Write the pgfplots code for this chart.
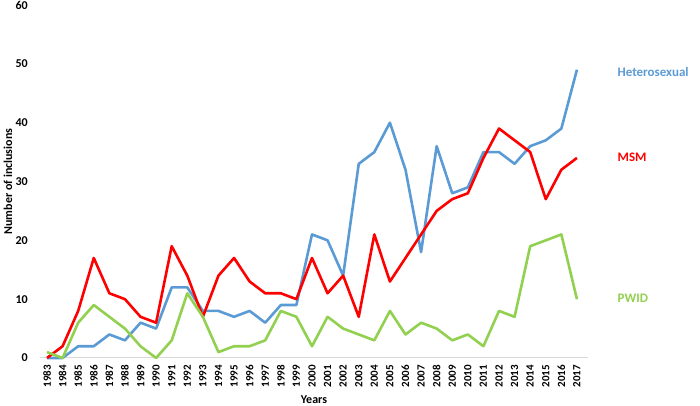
\documentclass[border=0pt]{standalone}
\usepackage{pgfplots}
\pgfplotsset{compat=1.18}
\usepackage{fontspec}
\setmainfont{Carlito}
\definecolor{hetero}{RGB}{91,155,213}
\definecolor{msm}{RGB}{255,0,0}
\definecolor{pwid}{RGB}{146,208,80}
\definecolor{axisgray}{RGB}{217,217,217}

\begin{document}
\begin{tikzpicture}[x=1pt,y=1pt]
\useasboundingbox (0,0) rectangle (700,406);
\begin{axis}[
    at={(40pt,48pt)}, anchor=south west,
    scale only axis, width=548pt, height=353pt,
    xmin=1982.55, xmax=2017.71,
    ymin=0, ymax=60,
    axis lines*=left,
    y axis line style={draw=none},
    x axis line style={axisgray, line width=1pt},
    major tick length=0pt,
    xtick={1983,...,2017},
    ytick={0,10,...,60},
    /pgf/number format/1000 sep={},
    /pgf/number format/assume math mode=true,
    xticklabel style={rotate=90, anchor=east, font=\bfseries\fontsize{11}{13}\selectfont, inner sep=0pt, xshift=-7pt},
    yticklabel style={anchor=east, inner sep=0pt, font=\bfseries\fontsize{12}{14}\selectfont, xshift=-12pt},
    xlabel={Years},
    ylabel={Number of inclusions},
    xlabel style={font=\bfseries\fontsize{12}{14}\selectfont, yshift=-5pt},
    ylabel style={font=\bfseries\fontsize{12}{14}\selectfont},
    clip=false,
    every axis plot/.append style={line width=2.6pt, line join=round, mark=none},
]
\addplot[hetero] coordinates {
 (1983,0)(1984,0)(1985,2)(1986,2)(1987,4)(1988,3)(1989,6)(1990,5)(1991,12)(1992,12)
 (1993,8)(1994,8)(1995,7)(1996,8)(1997,6)(1998,9)(1999,9)(2000,21)(2001,20)(2002,14)
 (2003,33)(2004,35)(2005,40)(2006,32)(2007,18)(2008,36)(2009,28)(2010,29)(2011,35)(2012,35)
 (2013,33)(2014,36)(2015,37)(2016,39)(2017,49)};
\addplot[msm] coordinates {
 (1983,0)(1984,2)(1985,8)(1986,17)(1987,11)(1988,10)(1989,7)(1990,6)(1991,19)(1992,14)
 (1993,7)(1994,14)(1995,17)(1996,13)(1997,11)(1998,11)(1999,10)(2000,17)(2001,11)(2002,14)
 (2003,7)(2004,21)(2005,13)(2006,17)(2007,21)(2008,25)(2009,27)(2010,28)(2011,34)(2012,39)
 (2013,37)(2014,35)(2015,27)(2016,32)(2017,34)};
\addplot[pwid] coordinates {
 (1983,1)(1984,0)(1985,6)(1986,9)(1987,7)(1988,5)(1989,2)(1990,0)(1991,3)(1992,11)
 (1993,7)(1994,1)(1995,2)(1996,2)(1997,3)(1998,8)(1999,7)(2000,2)(2001,7)(2002,5)
 (2003,4)(2004,3)(2005,8)(2006,4)(2007,6)(2008,5)(2009,3)(2010,4)(2011,2)(2012,8)
 (2013,7)(2014,19)(2015,20)(2016,21)(2017,10)};
\node[anchor=west, text=hetero, font=\bfseries\fontsize{13}{15}\selectfont, inner sep=0pt] at (axis cs:2019.6,48.6) {Heterosexual};
\node[anchor=west, text=msm, font=\bfseries\fontsize{13}{15}\selectfont, inner sep=0pt] at (axis cs:2019.6,34.2) {MSM};
\node[anchor=west, text=pwid, font=\bfseries\fontsize{13}{15}\selectfont, inner sep=0pt] at (axis cs:2019.6,10.2) {PWID};
\end{axis}
\end{tikzpicture}
\end{document}
